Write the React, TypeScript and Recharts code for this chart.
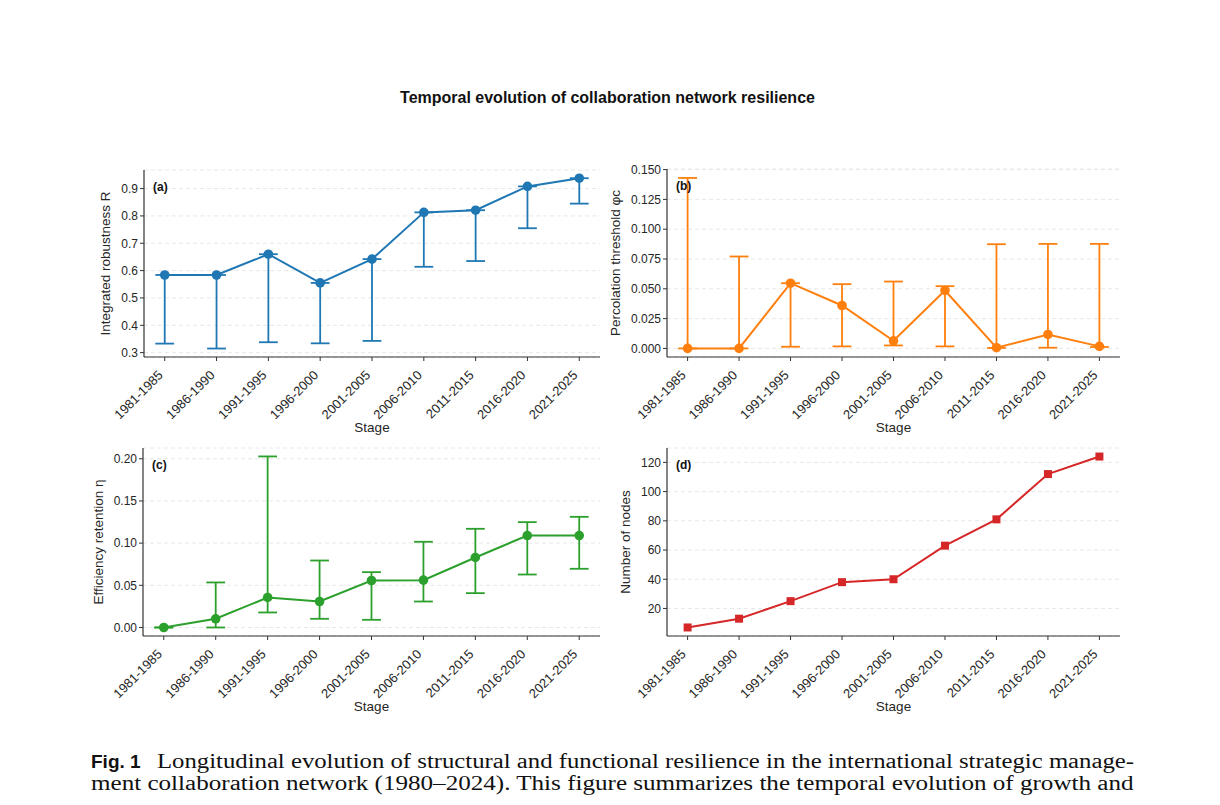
import React from "react";
import { CartesianGrid, ErrorBar, Line, LineChart, XAxis, YAxis } from "recharts";

const stages = [
  "1981-1985",
  "1986-1990",
  "1991-1995",
  "1996-2000",
  "2001-2005",
  "2006-2010",
  "2011-2015",
  "2016-2020",
  "2021-2025",
];

// (a) integrated robustness R, whiskers run down to the lower bound only
const robustness = [0.584, 0.584, 0.66, 0.555, 0.642, 0.813, 0.821, 0.908, 0.938];
const robustnessLow = [0.333, 0.315, 0.338, 0.334, 0.343, 0.614, 0.635, 0.755, 0.845];
const robustnessHigh = [0.584, 0.584, 0.66, 0.555, 0.642, 0.813, 0.821, 0.908, 0.938];

// (b) percolation threshold
const threshold = [0, 0, 0.0547, 0.036, 0.0064, 0.0486, 0.0006, 0.0117, 0.0017];
const thresholdLow = [0, 0, 0.0014, 0.0017, 0.0025, 0.0017, 0.0004, 0.0006, 0.0012];
const thresholdHigh = [0.143, 0.0771, 0.0547, 0.0539, 0.0561, 0.0522, 0.0874, 0.0877, 0.0877];

// (c) efficiency retention
const efficiency = [0, 0.0103, 0.0356, 0.0308, 0.0557, 0.0561, 0.083, 0.109, 0.109];
const efficiencyLow = [0, 0, 0.0178, 0.0103, 0.0091, 0.0308, 0.0407, 0.0628, 0.0696];
const efficiencyHigh = [0, 0.0534, 0.2028, 0.0794, 0.0656, 0.1016, 0.117, 0.1249, 0.1312];

// (d) network size
const nodes = [7, 13, 25, 38, 40, 63, 81, 112, 124];

const robustnessTicks = [0.3, 0.4, 0.5, 0.6, 0.7, 0.8, 0.9];
const thresholdTicks = [0, 0.025, 0.05, 0.075, 0.1, 0.125, 0.15];
const efficiencyTicks = [0, 0.05, 0.1, 0.15, 0.2];
const nodeTicks = [20, 40, 60, 80, 100, 120];

const captionLead = "Fig. 1";
const captionLine1 =
  "Longitudinal evolution of structural and functional resilience in the international strategic manage-";
const captionLine2 =
  "ment collaboration network (1980–2024). This figure summarizes the temporal evolution of growth and";

const SANS = "'Liberation Sans', Arial, Helvetica, sans-serif";
const SERIF = "'Liberation Serif', 'Times New Roman', serif";
const AXIS = "#333333";
const TEXT = "#262626";

const LEFT = 80; // y-axis band width inside each chart
const TOP = 10;

function buildRows(mean: number[], low?: number[], high?: number[]) {
  return stages.map((stage, i) => ({
    stage,
    value: mean[i],
    err: low && high ? [mean[i] - low[i], high[i] - mean[i]] : undefined,
  }));
}

function StageTick(props: any) {
  const { x, y, payload } = props;
  return (
    <g transform={`translate(${x - 1},${y + 13})`}>
      <text
        x={0}
        y={0}
        textAnchor="end"
        transform="rotate(-45)"
        fontSize={13}
        fontFamily={SANS}
        fill={TEXT}
      >
        {payload.value}
      </text>
    </g>
  );
}

interface PanelProps {
  tag: string;
  yLabel: string;
  yLabelGap: number;
  color: string;
  rows: any[];
  domain: [number, number];
  ticks: number[];
  fmt: (v: number) => string;
  box: { x0: number; x1: number; y0: number; y1: number };
  square?: boolean;
}

function Panel({ tag, yLabel, yLabelGap, color, rows, domain, ticks, fmt, box, square }: PanelProps) {
  const plotW = box.x1 - box.x0;
  const plotH = box.y1 - box.y0;
  const width = plotW + LEFT + 10;
  const height = plotH + TOP + 90;
  const pad = (plotW * 0.4) / 8.8;
  const hasErr = rows[0].err !== undefined;

  const yLabelContent = () => (
    <g>
      <text
        x={LEFT - yLabelGap}
        y={TOP + plotH / 2}
        transform={`rotate(-90, ${LEFT - yLabelGap}, ${TOP + plotH / 2})`}
        textAnchor="middle"
        dominantBaseline="central"
        fontSize={13.5}
        fontFamily={SANS}
        fill={TEXT}
      >
        {yLabel}
      </text>
      <text
        x={LEFT + 9}
        y={TOP + 17}
        dominantBaseline="central"
        fontSize={12}
        fontWeight="bold"
        fontFamily={SANS}
        fill="#111"
      >
        {tag}
      </text>
    </g>
  );

  const xLabelContent = () => (
    <text
      x={LEFT + plotW / 2}
      y={TOP + plotH + 70}
      textAnchor="middle"
      dominantBaseline="central"
      fontSize={13.5}
      fontFamily={SANS}
      fill={TEXT}
    >
      Stage
    </text>
  );

  // caps at the mean are narrower than the marker so they stay hidden under it
  const dot = square
    ? (p: any) => (
        <rect key={`sq-${p.index}`} x={p.cx - 4} y={p.cy - 4} width={8} height={8} fill={color} />
      )
    : { r: 4.8, fill: color, stroke: color, strokeWidth: 0 };

  return (
    <div style={{ position: "absolute", left: box.x0 - LEFT, top: box.y0 - TOP }}>
      <LineChart width={width} height={height} data={rows} margin={{ top: TOP, right: 10, left: 0, bottom: 0 }}>
        <CartesianGrid vertical={false} stroke="#e8e8e8" strokeDasharray="4 3" />
        <XAxis
          dataKey="stage"
          type="category"
          interval={0}
          height={90}
          padding={{ left: pad, right: pad }}
          axisLine={{ stroke: AXIS, strokeWidth: 1.2 }}
          tickLine={{ stroke: AXIS }}
          tickSize={4}
          tick={<StageTick />}
          label={xLabelContent}
        />
        <YAxis
          type="number"
          width={LEFT}
          domain={domain}
          ticks={ticks}
          allowDataOverflow
          tickFormatter={fmt}
          axisLine={{ stroke: AXIS, strokeWidth: 1.2 }}
          tickLine={{ stroke: AXIS }}
          tickSize={4}
          tick={{ fontSize: 12, fontFamily: SANS, fill: TEXT }}
          label={yLabelContent}
        />
        <Line
          dataKey="value"
          type="linear"
          stroke={color}
          strokeWidth={2}
          dot={dot}
          activeDot={false}
          isAnimationActive={false}
        >
          {hasErr && (
            <ErrorBar
              dataKey="err"
              direction="y"
              width={9.4}
              stroke={color}
              strokeWidth={1.8}
              isAnimationActive={false}
            />
          )}
        </Line>
      </LineChart>
    </div>
  );
}

// squeeze or stretch a caption line so it spans exactly the text block
function textWidth(text: string, font: string) {
  const ctx = document.createElement("canvas").getContext("2d");
  if (!ctx) return 0;
  ctx.font = font;
  return ctx.measureText(text).width;
}

function CaptionLine({ text, left, right, top }: { text: string; left: number; right: number; top: number }) {
  const size = 20;
  const natural = textWidth(text, `${size}px ${SERIF}`) || right - left;
  const scale = (right - left) / natural;
  return (
    <div
      style={{
        position: "absolute",
        left,
        top,
        whiteSpace: "nowrap",
        fontFamily: SERIF,
        fontSize: size,
        lineHeight: "21px",
        color: "#111",
        transform: `scaleX(${scale})`,
        transformOrigin: "left top",
      }}
    >
      {text}
    </div>
  );
}

export default function App() {
  return (
    <div style={{ position: "absolute", left: 0, top: 0, width: 1220, height: 805, background: "#fff" }}>
      <div
        style={{
          position: "absolute",
          left: 0,
          width: 1215,
          top: 89,
          textAlign: "center",
          fontFamily: SANS,
          fontWeight: "bold",
          fontSize: 16,
          color: "#111",
        }}
      >
        Temporal evolution of collaboration network resilience
      </div>

      <Panel
        tag="(a)"
        yLabel="Integrated robustness R"
        yLabelGap={39}
        color="#1f77b4"
        rows={buildRows(robustness, robustnessLow, robustnessHigh)}
        domain={[0.284, 0.968]}
        ticks={robustnessTicks}
        fmt={(v) => v.toFixed(1)}
        box={{ x0: 144, x1: 600, y0: 170, y1: 357 }}
      />
      <Panel
        tag="(b)"
        yLabel="Percolation threshold φc"
        yLabelGap={52}
        color="#ff7f0e"
        rows={buildRows(threshold, thresholdLow, thresholdHigh)}
        domain={[-0.0072, 0.1505]}
        ticks={thresholdTicks}
        fmt={(v) => v.toFixed(3)}
        box={{ x0: 667, x1: 1120, y0: 169, y1: 357 }}
      />
      <Panel
        tag="(c)"
        yLabel="Efficiency retention η"
        yLabelGap={45}
        color="#2ca02c"
        rows={buildRows(efficiency, efficiencyLow, efficiencyHigh)}
        domain={[-0.0101, 0.2128]}
        ticks={efficiencyTicks}
        fmt={(v) => v.toFixed(2)}
        box={{ x0: 143, x1: 600, y0: 448, y1: 636 }}
      />
      <Panel
        tag="(d)"
        yLabel="Number of nodes"
        yLabelGap={42}
        color="#d62728"
        rows={buildRows(nodes)}
        domain={[1.15, 129.85]}
        ticks={nodeTicks}
        fmt={(v) => String(v)}
        box={{ x0: 667, x1: 1120, y0: 448, y1: 636 }}
        square
      />

      <div
        style={{
          position: "absolute",
          left: 91,
          top: 751,
          fontFamily: SANS,
          fontWeight: "bold",
          fontSize: 19,
          lineHeight: "21px",
          color: "#111",
        }}
      >
        {captionLead}
      </div>
      <CaptionLine text={captionLine1} left={157} right={1134} top={751} />
      <CaptionLine text={captionLine2} left={91} right={1134} top={773} />
    </div>
  );
}
